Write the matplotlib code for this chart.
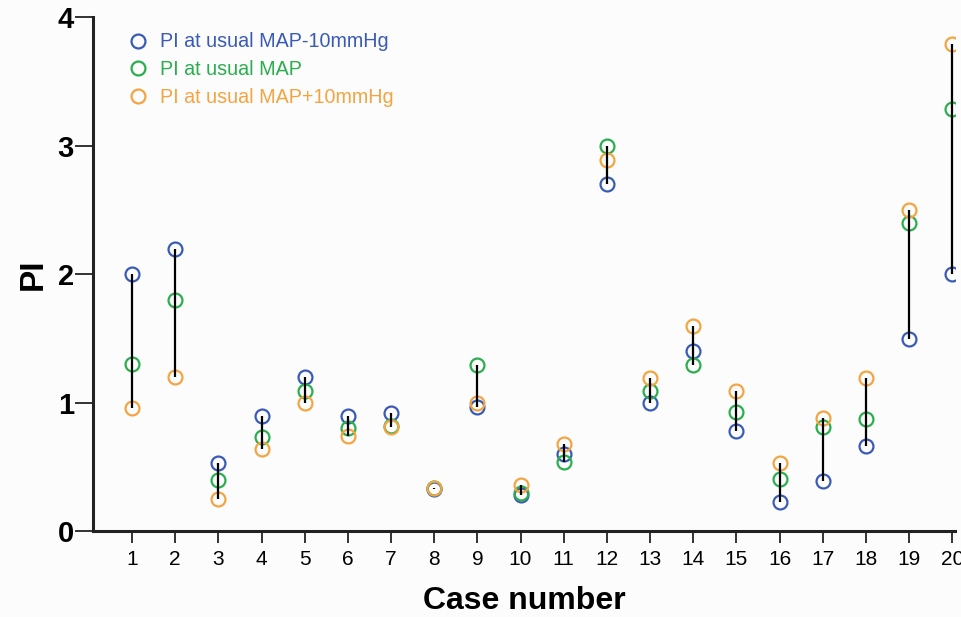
import numpy as np
import matplotlib.pyplot as plt

# Valores
cases = list(range(1, 21))
pi_minus10 = [2.00, 2.20, 0.53, 0.90, 1.20, 0.90, 0.92, 0.33, 0.97, 0.28,
              0.60, 2.70, 1.00, 1.40, 0.78, 0.23, 0.39, 0.66, 1.50, 2.00]
pi_usual = [1.30, 1.80, 0.40, 0.73, 1.09, 0.80, 0.82, 0.34, 1.29, 0.30,
            0.54, 3.00, 1.09, 1.29, 0.93, 0.41, 0.81, 0.87, 2.40, 3.29]
pi_plus10 = [0.96, 1.20, 0.25, 0.64, 1.00, 0.74, 0.81, 0.34, 1.00, 0.36,
             0.68, 2.89, 1.19, 1.60, 1.09, 0.53, 0.88, 1.19, 2.50, 3.79]

labels = ["PI at usual MAP-10mmHg", "PI at usual MAP", "PI at usual MAP+10mmHg"]
cores = ["#3a5bb5", "#2aae4e", "#f2a541"]

plt.rcParams['font.family'] = ['Liberation Sans', 'DejaVu Sans']

fig = plt.figure(figsize=(9.61, 6.17), dpi=100, facecolor="#fcfcfd")
ax = fig.add_axes([0.097, 0.139, 0.897, 0.833])
ax.set_facecolor("#fcfcfd")

# Linhas verticais entre o mínimo e o máximo de cada caso
dados = np.array([pi_minus10, pi_usual, pi_plus10])
ax.vlines(cases, dados.min(axis=0), dados.max(axis=0), color="black",
          linewidth=1.6, zorder=4)

# Pontos (círculos vazios)
for serie, cor, lab in zip([pi_minus10, pi_usual, pi_plus10], cores, labels):
    ax.plot(cases, serie, linestyle="none", marker="o", markersize=10,
            markerfacecolor="none", markeredgecolor=cor, markeredgewidth=1.6,
            label=lab, zorder=3)

ax.set_xlim(0.1, 20.07)
ax.set_ylim(0, 4)
ax.set_xticks(cases)
ax.set_yticks([0, 1, 2, 3, 4])

for s in ["top", "right"]:
    ax.spines[s].set_visible(False)
for s in ["left", "bottom"]:
    ax.spines[s].set_linewidth(2.2)
    ax.spines[s].set_color("#222222")

ax.tick_params(axis="y", length=13, width=1.3, labelsize=21, pad=1,
               color="#222222")
ax.tick_params(axis="x", length=8.5, width=1.3, labelsize=15, pad=5,
               color="#222222")
for t in ax.get_yticklabels():
    t.set_fontweight("bold")

ax.set_xlabel("Case number", fontsize=23, fontweight="bold", labelpad=12)
ax.set_ylabel("PI", fontsize=24, fontweight="bold", labelpad=6)

leg = ax.legend(loc="upper left", bbox_to_anchor=(0.02, 1.005), frameon=False,
                fontsize=14.2, handlelength=1.0, handletextpad=0.6,
                labelspacing=0.45, labelcolor="markeredgecolor")

plt.savefig("out.png", dpi=100, facecolor=fig.get_facecolor())
